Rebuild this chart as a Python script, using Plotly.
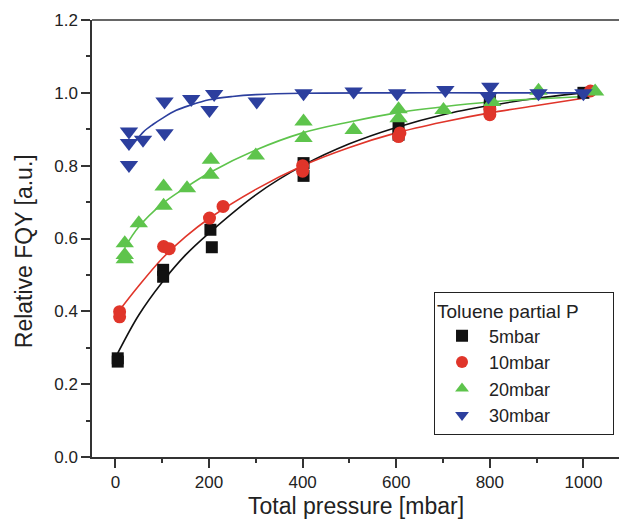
import plotly.graph_objects as go

# ---- data ----
x_5 = [5, 5, 102, 102, 206, 203, 402, 402, 605, 605, 800, 800, 1000]
y_5 = [0.271, 0.262, 0.514, 0.495, 0.576, 0.624, 0.807, 0.772, 0.905, 0.885, 0.98, 0.96, 1.0]

x_10 = [9, 9, 103, 115, 201, 230, 400, 400, 608, 605, 800, 800, 1015]
y_10 = [0.399, 0.385, 0.578, 0.572, 0.656, 0.688, 0.80, 0.785, 0.89, 0.88, 0.955, 0.94, 1.005]

x_20 = [20, 20, 20, 50, 103, 103, 153, 203, 204, 300, 402, 402, 509, 605, 605, 701, 805, 904, 1025]
y_20 = [0.587, 0.555, 0.543, 0.642, 0.743, 0.69, 0.738, 0.775, 0.816, 0.828, 0.921, 0.876, 0.898, 0.955, 0.93, 0.953, 0.975, 1.006, 1.004]

x_30 = [29, 29, 59, 29, 105, 105, 162, 211, 201, 302, 402, 509, 602, 705, 801, 797, 904, 1000]
y_30 = [0.894, 0.862, 0.871, 0.802, 0.976, 0.889, 0.983, 0.997, 0.953, 0.976, 0.999, 1.004, 0.999, 1.008, 1.017, 0.99, 0.999, 0.999]

# fitted curves
fx_5 = [5, 50, 100, 150, 200, 300, 400, 500, 600, 700, 800, 900, 1000]
fy_5 = [0.285, 0.39, 0.48, 0.555, 0.615, 0.72, 0.80, 0.86, 0.905, 0.94, 0.965, 0.985, 1.0]

fx_10 = [10, 50, 100, 150, 200, 300, 400, 500, 600, 700, 800, 900, 1000]
fy_10 = [0.405, 0.47, 0.545, 0.605, 0.655, 0.735, 0.80, 0.85, 0.89, 0.92, 0.945, 0.965, 0.985]

fx_20 = [20, 50, 100, 150, 200, 300, 400, 500, 600, 700, 800, 900, 1000]
fy_20 = [0.575, 0.632, 0.695, 0.74, 0.78, 0.843, 0.89, 0.92, 0.945, 0.962, 0.975, 0.983, 0.99]

fx_30 = [45, 60, 80, 100, 130, 160, 200, 250, 300, 400, 600, 800, 1000]
fy_30 = [0.87, 0.893, 0.913, 0.93, 0.952, 0.966, 0.981, 0.99, 0.995, 0.999, 1.0, 1.0, 1.0]

names = ["5mbar", "10mbar", "20mbar", "30mbar"]
x_ticks = [0, 200, 400, 600, 800, 1000]
y_ticks = [0.0, 0.2, 0.4, 0.6, 0.8, 1.0, 1.2]

colors = ["#111111", "#e0352a", "#5ec44c", "#2c3f9e"]
symbols = ["square", "circle", "triangle-up", "triangle-down"]
sizes = [12, 13, 16, 16]

series = [(x_5, y_5, fx_5, fy_5), (x_10, y_10, fx_10, fy_10),
          (x_20, y_20, fx_20, fy_20), (x_30, y_30, fx_30, fy_30)]

fig = go.Figure()
for (xs, ys, fx, fy), c in zip(series, colors):
    fig.add_trace(go.Scatter(x=fx, y=fy, mode="lines", line=dict(color=c, width=1.6, shape="spline"),
                             showlegend=False, hoverinfo="skip"))
for (xs, ys, fx, fy), c, s, sz, n in zip(series, colors, symbols, sizes, names):
    fig.add_trace(go.Scatter(x=xs, y=ys, mode="markers", name=n,
                             marker=dict(color=c, symbol=s, size=sz, line=dict(width=0))))

font = "Liberation Sans, Arial, sans-serif"
txt = "#222222"
axis_common = dict(showline=True, linecolor="#333333", linewidth=1.5, ticks="outside",
                   ticklen=9, tickwidth=1.5, tickcolor="#333333", showgrid=False, zeroline=False,
                   tickfont=dict(family=font, size=17, color=txt))

fig.update_xaxes(range=[-50, 1076], tickvals=x_ticks, mirror=False,
                 minor=dict(ticklen=4.5, tickwidth=1.5, tickcolor="#333333", dtick=100, ticks="outside"),
                 **axis_common)
fig.update_yaxes(range=[0, 1.2], tickvals=y_ticks, tickformat=".1f",
                 minor=dict(ticklen=4.5, tickwidth=1.5, tickcolor="#333333", dtick=0.1, ticks="outside"),
                 **axis_common)

# top border line of the frame
fig.add_shape(type="line", xref="paper", yref="paper", x0=0, x1=1, y0=1, y1=1,
              line=dict(color="#333333", width=1.5))

# axis titles
fig.add_annotation(text="Total pressure [mbar]", xref="paper", yref="paper", x=0.5, y=-0.113,
                   xanchor="center", yanchor="middle", showarrow=False,
                   font=dict(family=font, size=23, color=txt))
fig.add_annotation(text="Relative FQY [a.u.]", xref="paper", yref="paper", x=-0.129, y=0.471,
                   xanchor="center", yanchor="middle", showarrow=False, textangle=-90,
                   font=dict(family=font, size=23, color=txt))

fig.update_layout(
    width=619, height=521,
    margin=dict(l=92, r=0, t=20, b=64, autoexpand=False),
    plot_bgcolor="white", paper_bgcolor="white",
    legend=dict(x=0.649, y=0.378, xanchor="left", yanchor="top",
                bordercolor="#222222", borderwidth=1, bgcolor="white",
                title=dict(text="Toluene partial P" + "\u00a0" * 6, font=dict(family=font, size=19, color=txt)),
                font=dict(family=font, size=18, color=txt), itemsizing="constant", itemwidth=44),
)

fig.write_html("out.html")
